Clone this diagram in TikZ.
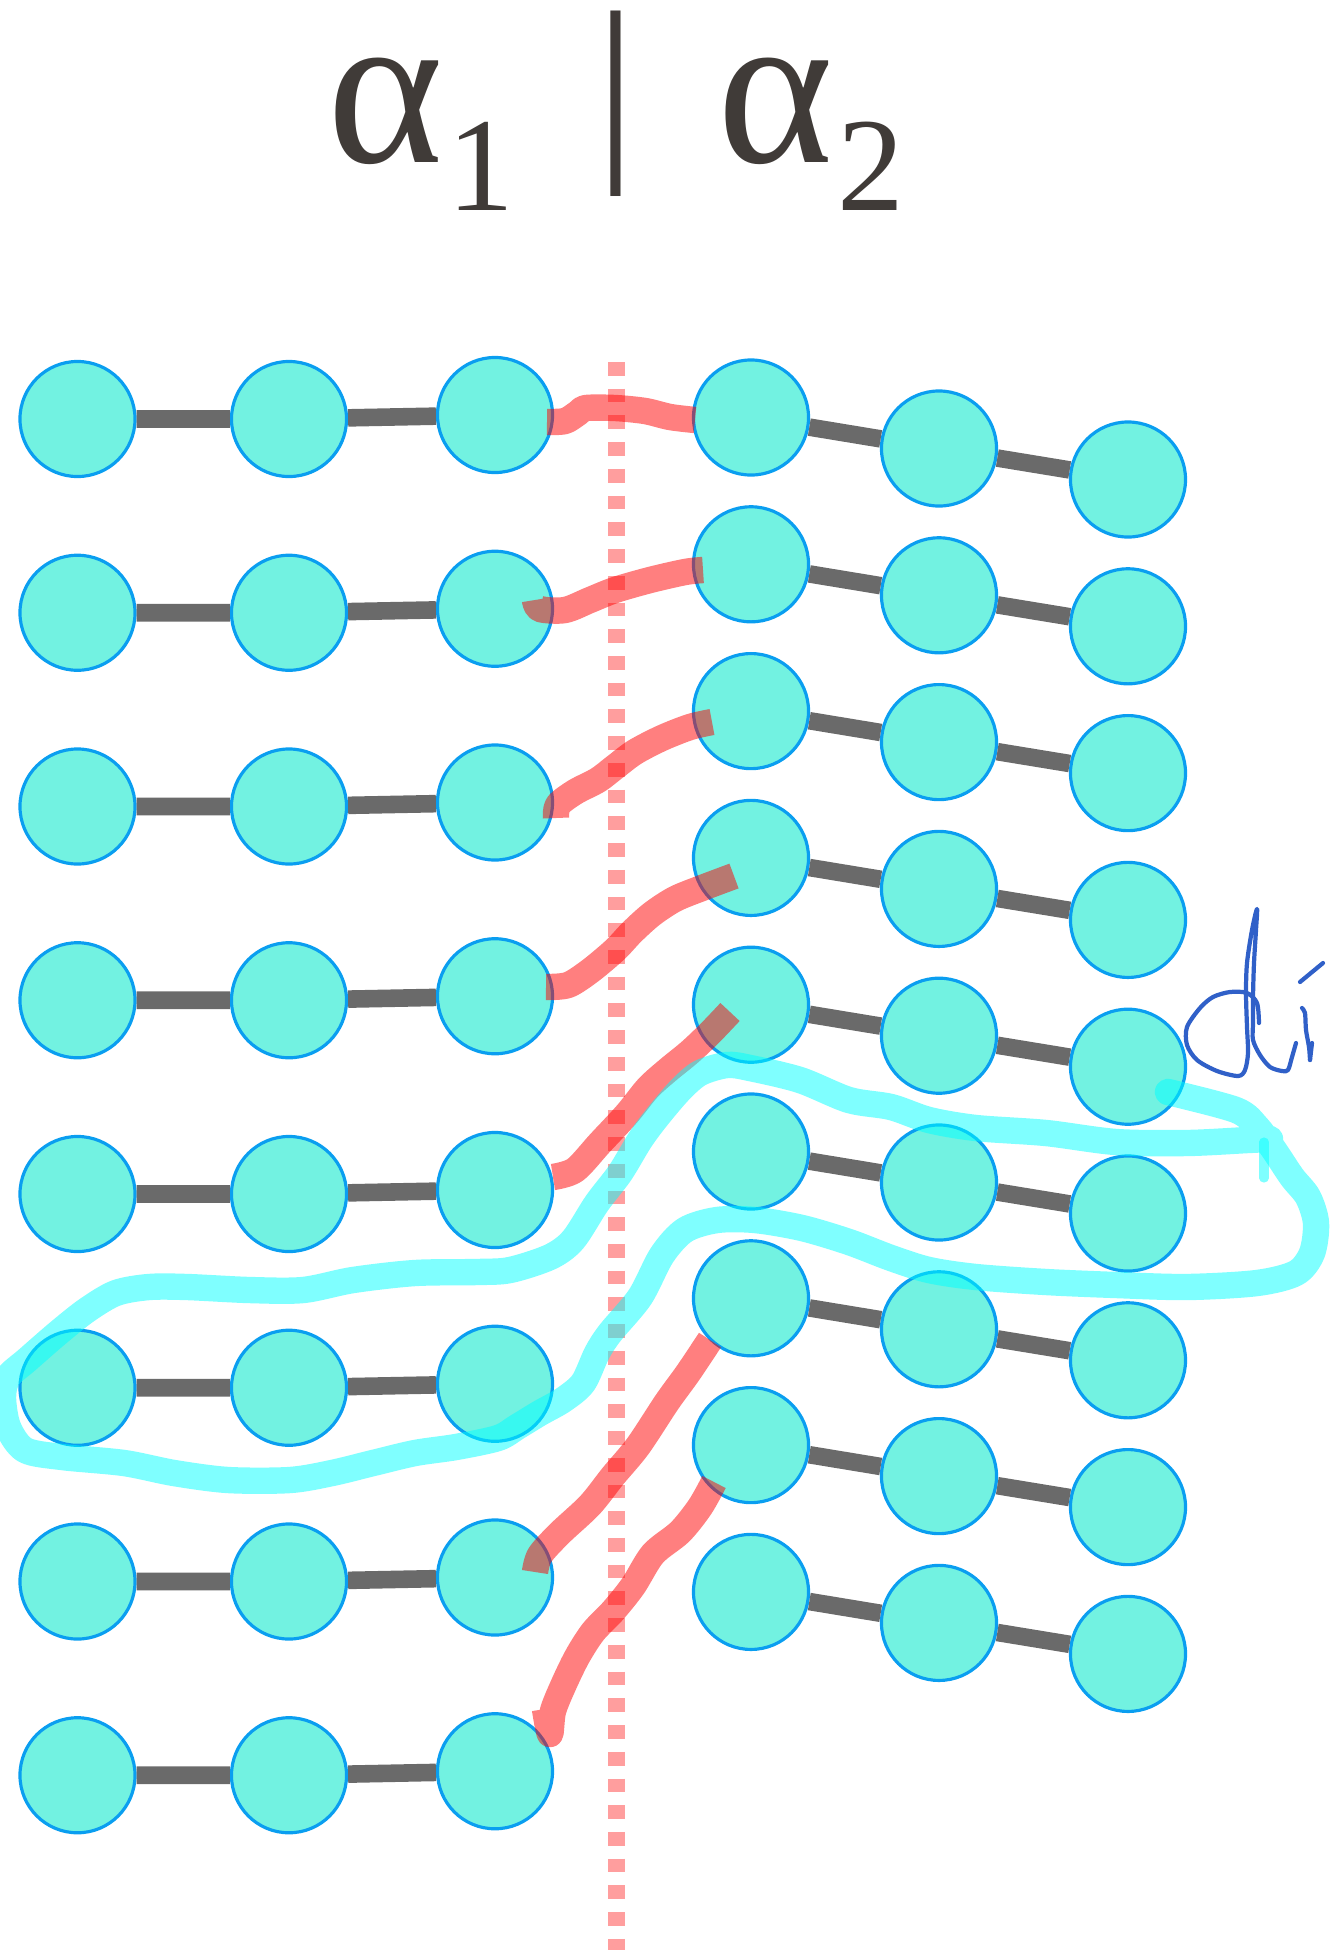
\documentclass[tikz,border=0pt]{standalone}
\usepackage{fontspec}
\newfontfamily\titlefont{Liberation Serif}
\definecolor{ink}{HTML}{403B38}
\definecolor{beadfill}{HTML}{72F2E1}
\definecolor{rim}{HTML}{0A9EF0}
\definecolor{bondgray}{HTML}{6A6A6A}
\definecolor{pen}{HTML}{3060C8}
\definecolor{aqua}{RGB}{0,255,255}
\definecolor{cutred}{RGB}{255,0,0}
\newcommand\alphasub[1]{α\kern1pt\raisebox{-13.7pt}{\fontsize{38}{38}\selectfont #1}}

\begin{document}
\begin{tikzpicture}[x=0.01cm,y=-0.01cm,
  title/.style={text=ink,inner sep=0pt,font=\titlefont\fontsize{63}{63}\selectfont},
  bead/.style={circle,fill=beadfill,draw=rim,line width=0.9pt,
    minimum size=1.15cm,inner sep=0pt},
  bond/.style={draw=bondgray,line width=5pt},
  divider/.style={cutred,opacity=.38,line width=5pt,
    dash pattern=on 3.9pt off 3.7pt},
  cut/.style={cutred,opacity=.5,line width=7.5pt,line join=round},
  lasso/.style={aqua,opacity=.5,line width=7.5pt,line cap=round,line join=round},
  scribble/.style={pen,line width=1.2pt,line cap=round,line join=round}]
  \useasboundingbox (0,0) rectangle (1331,1960);

  % header
  \node[title,anchor=base west] (a1) at (327,162) {\alphasub{1}};
  \node[title,font=\titlefont\fontsize{58}{58}\selectfont] (bar) at (616,104) {|};
  \node[title,anchor=base west] (a2) at (717,162) {\alphasub{2}};

  \draw[divider] (616.5,362) -- (616.5,1950);

  % left chains
  \foreach \r in {1,...,8} {
    \foreach \c/\x/\dy in {1/77.5/0,2/289/0,3/495/-4}
      \node[bead] (l\r-\c) at (\x,{419+193.75*(\r-1)+\dy}) {};
    \draw[bond] (l\r-1) -- (l\r-2) -- (l\r-3);
  }

  % right chains
  \foreach \r in {1,...,9} {
    \foreach \c/\x in {1/751,2/939,3/1128}
      \node[bead] (r\r-\c) at (\x,{417.5+146.8*(\r-1)+31*(\c-1)}) {};
    \draw[bond] (r\r-1) -- (r\r-2) -- (r\r-3);
  }

  % red cuts
  \draw[cut] plot[smooth,tension=.5] coordinates {(547,422) (565,421) (578,413)
    (586,408) (615,408) (645,411) (670,417) (695,420)};
  \draw[cut] plot[smooth,tension=.5] coordinates {(535,600) (540,609) (565,610)
    (590,600) (615,590) (650,580) (685,572) (703,570)};
  \draw[cut] plot[smooth,tension=.5] coordinates {(556,818) (558,805) (575,792)
    (598,780) (615,767) (635,752) (662,738) (690,727) (712,722)};
  \draw[cut] plot[smooth,tension=.5] coordinates {(546,987) (568,985) (590,971)
    (615,950) (632,932) (652,914) (675,899) (702,888) (734,876)};
  \draw[cut] plot[smooth,tension=.5] coordinates {(553,1177) (575,1170) (600,1143)
    (627,1114) (648,1088) (668,1070) (690,1052) (710,1033) (730,1012)};
  \draw[cut] plot[smooth,tension=.5] coordinates {(535,1572) (540,1555) (560,1533)
    (590,1505) (613,1476) (638,1446) (667,1402) (688,1373) (710,1340)};
  \draw[cut] plot[smooth,tension=.5] coordinates {(545,1709) (550,1734) (553,1711)
    (563,1686) (577,1657) (593,1632) (613,1611) (633,1586) (653,1554) (680,1532)
    (700,1507) (714,1482)};

  % cyan lasso
  \draw[lasso] plot[smooth,tension=.5] coordinates {(1168,1092) (1236,1110)
    (1257,1127) (1274,1150) (1292,1177) (1308,1197) (1316,1223) (1312,1253)
    (1296,1273) (1257,1283) (1187,1287) (1116,1285) (1046,1282) (976,1277)
    (929,1270) (891,1258) (849,1242) (802,1228) (755,1220) (717,1220) (685,1230)
    (662,1255) (640,1297) (610,1333) (597,1353) (583,1383) (563,1400) (540,1413)
    (517,1427) (498,1438) (456,1447) (415,1453) (373,1463) (332,1473) (290,1480)
    (228,1480) (174,1473) (124,1463) (62,1457) (25,1450) (8,1427) (3,1397)
    (8,1377) (27,1360) (58,1333) (87,1310) (116,1293) (149,1287) (187,1287)
    (249,1290) (303,1290) (353,1280) (415,1273) (477,1272) (510,1270) (550,1257)
    (573,1240) (597,1203) (620,1173) (640,1140) (657,1117) (680,1090) (700,1073)
    (727,1065) (750,1068) (800,1080) (849,1100) (891,1107) (929,1120) (976,1128)
    (1046,1133) (1116,1142) (1187,1143) (1248,1140) (1270,1139)};
  \draw[lasso,line width=2.6pt] (1264,1142) -- (1264,1178);

  % handwritten note
  \draw[scribble] plot[smooth,tension=.5] coordinates {(1259,1023) (1257,1003)
    (1247,993) (1230,992) (1213,997) (1200,1008) (1187,1027) (1187,1045)
    (1197,1060) (1217,1071) (1238,1076) (1245,1070) (1248,1053) (1247,1027)
    (1246,993) (1247,963) (1252,930) (1257,909) (1256,930) (1254,963)
    (1253,997) (1253,1023) (1253,1040) (1260,1055) (1270,1067) (1282,1071)
    (1288,1070) (1292,1057) (1296,1043)};
  \draw[scribble] (1300,982) -- (1323,963);
  \draw[scribble] plot[smooth,tension=.5] coordinates {(1302,1008) (1305,1013)
    (1306,1030) (1309,1047) (1310,1060)};
  \draw[scribble] (1312,1043) -- (1310,1060);
\end{tikzpicture}
\end{document}
